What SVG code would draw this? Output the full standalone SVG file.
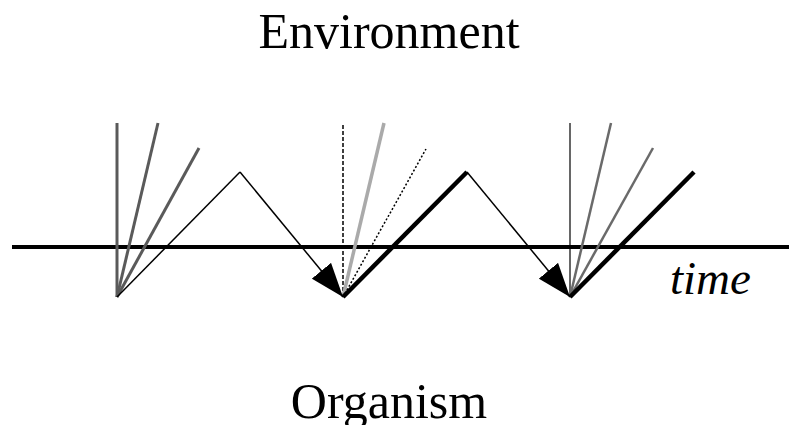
<svg xmlns="http://www.w3.org/2000/svg" width="789" height="425" viewBox="0 0 789 425">
<style>
.lbl{font-family:"Liberation Serif","Times New Roman",serif;font-size:50px;fill:#000;text-anchor:middle}
.time{font-family:"Liberation Serif","Times New Roman",serif;font-size:47px;font-style:italic;fill:#000}
.g1{stroke:#5a5a5a;stroke-width:3;fill:none}
.thin{stroke:#000;stroke-width:1.5;fill:none}
.thick{stroke:#000;stroke-width:4.5;fill:none}
.g3{stroke:#6a6a6a;stroke-width:2.5;fill:none}
</style>
<defs>
<marker id="ah" viewBox="0 0 34 25" refX="34" refY="12.5" markerWidth="34" markerHeight="25" markerUnits="userSpaceOnUse" orient="auto">
<path d="M0,0 L34,12.5 L0,25 Z" fill="#000"/>
</marker>
</defs>
<rect width="789" height="425" fill="#fff"/>
<g id="environment-label"><text class="lbl" x="389" y="48">Environment</text></g>
<g id="organism-label"><text class="lbl" x="389" y="418">Organism</text></g>
<g id="time-axis">
<line x1="12" y1="247" x2="789" y2="247" stroke="#000" stroke-width="4"/>
<text class="time" x="670" y="294">time</text>
</g>
<g id="fan-1">
<line class="g1" x1="117" y1="297" x2="117" y2="123"/>
<line class="g1" x1="117" y1="297" x2="158" y2="123"/>
<line class="g1" x1="117" y1="297" x2="199" y2="148"/>
</g>
<g id="fan-2">
<line x1="343" y1="297" x2="343" y2="123" stroke="#000" stroke-width="1.5" stroke-dasharray="4,2"/>
<line x1="343" y1="297" x2="384" y2="123" stroke="#aaaaaa" stroke-width="3.5"/>
<line x1="343" y1="297" x2="426" y2="149" stroke="#000" stroke-width="1.5" stroke-dasharray="2,2"/>
</g>
<g id="fan-3">
<line x1="570" y1="297" x2="570" y2="123" stroke="#000" stroke-width="1.2"/>
<line class="g3" x1="570" y1="297" x2="611" y2="123"/>
<line class="g3" x1="570" y1="297" x2="653" y2="148"/>
</g>
<g id="connectors">
<line class="thin" x1="117" y1="297" x2="240" y2="172"/>
<line class="thin" x1="240" y1="172" x2="343" y2="297" marker-end="url(#ah)"/>
<line class="thick" x1="343" y1="297" x2="467" y2="172"/>
<line class="thin" x1="467" y1="172" x2="570" y2="297" marker-end="url(#ah)"/>
<line class="thick" x1="570" y1="297" x2="694" y2="172"/>
</g>
</svg>
